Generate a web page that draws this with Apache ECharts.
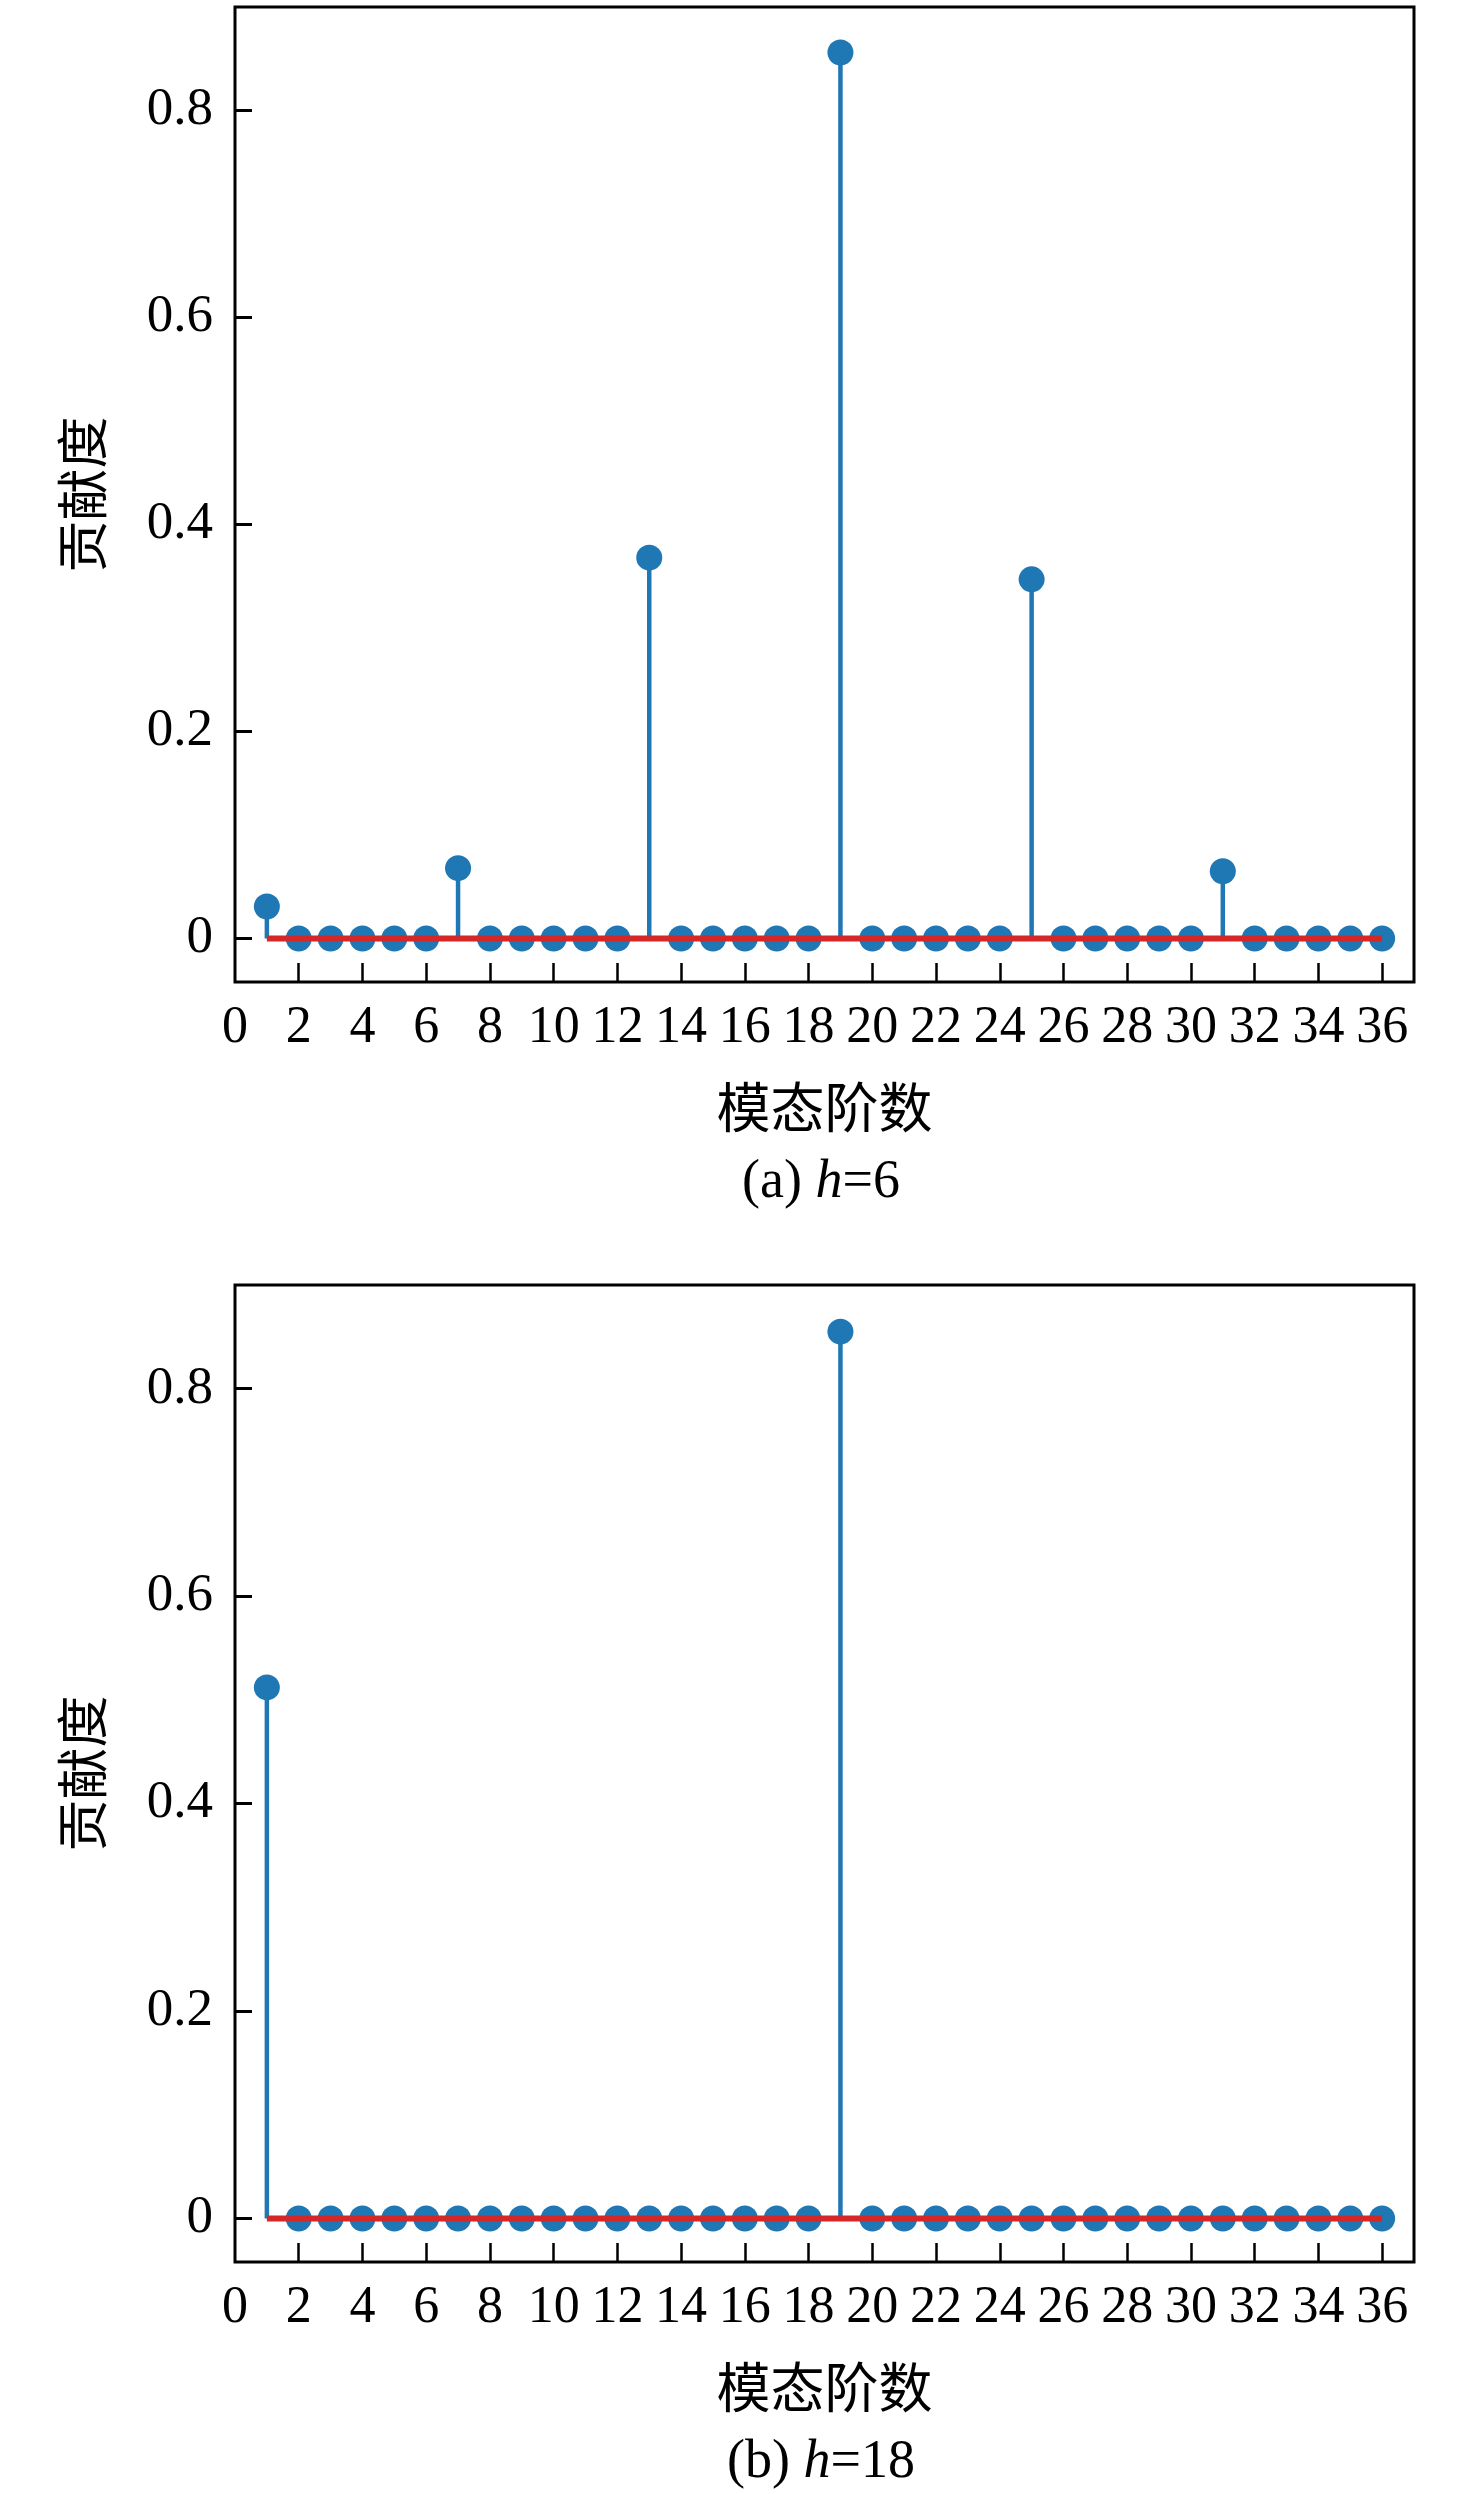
<!DOCTYPE html>
<html>
<head>
<meta charset="utf-8">
<title>贡献度</title>
<script src="https://cdn.jsdelivr.net/npm/echarts@6/dist/echarts.min.js"></script>
<style>
  html, body { margin: 0; padding: 0; background: #fff; }
  #main { width: 1476px; height: 2494px; }
</style>
</head>
<body>
<div id="main"></div>
<script>
// 模态阶数
var modes = [1, 2, 3, 4, 5, 6, 7, 8, 9, 10, 11, 12, 13, 14, 15, 16, 17, 18,
  19, 20, 21, 22, 23, 24, 25, 26, 27, 28, 29, 30, 31, 32, 33, 34, 35, 36];
// (a) h=6 贡献度
var contribA = [0.031, 0, 0, 0, 0, 0, 0.068, 0, 0, 0, 0, 0, 0.368, 0, 0, 0, 0, 0,
  0.856, 0, 0, 0, 0, 0, 0.347, 0, 0, 0, 0, 0, 0.065, 0, 0, 0, 0, 0];
// (b) h=18 贡献度
var contribB = [0.512, 0, 0, 0, 0, 0, 0, 0, 0, 0, 0, 0, 0, 0, 0, 0, 0, 0,
  0.855, 0, 0, 0, 0, 0, 0, 0, 0, 0, 0, 0, 0, 0, 0, 0, 0, 0];
// 刻度
var xLabelValues = [0, 2, 4, 6, 8, 10, 12, 14, 16, 18, 20, 22, 24, 26, 28, 30, 32, 34, 36];
var xTickValues = [2, 4, 6, 8, 10, 12, 14, 16, 18, 20, 22, 24, 26, 28, 30, 32, 34, 36];
var yTickValues = [0, 0.2, 0.4, 0.6, 0.8];
var captions = [['(a) ', 'h', '=6'], ['(b) ', 'h', '=18']];

var BLUE = '#1f77b4';
var RED = '#d62728';
var SERIF = '"Liberation Serif", "Times New Roman", serif';
var CJK = '"Noto Sans CJK SC", sans-serif';

var grids = [
  { left: 235, top: 7, width: 1179, height: 975 },
  { left: 235, top: 1285, width: 1179, height: 977 }
];

function pairs(vals) {
  return modes.map(function (m, i) { return [m, vals[i]]; });
}

var option = {
  animation: false,
  backgroundColor: '#fff',
  grid: grids.map(function (g) {
    return Object.assign({ show: true, borderColor: '#000', borderWidth: 3 }, g);
  }),
  xAxis: grids.map(function (g, i) {
    return {
      gridIndex: i,
      type: 'value',
      min: 0,
      max: 37,
      name: '模态阶数',
      nameLocation: 'middle',
      nameGap: 98,
      nameTextStyle: { fontFamily: CJK, fontSize: 54, color: '#000' },
      axisLine: { show: false, onZero: false },
      splitLine: { show: false },
      axisTick: {
        show: true, inside: true, length: 19,
        customValues: xTickValues,
        lineStyle: { color: '#000', width: 2.5 }
      },
      axisLabel: {
        customValues: xLabelValues,
        margin: 20,
        fontFamily: SERIF, fontSize: 52, color: '#000'
      }
    };
  }),
  yAxis: grids.map(function (g, i) {
    return {
      gridIndex: i,
      type: 'value',
      min: -0.042,
      max: 0.9,
      name: '贡献度',
      nameLocation: 'middle',
      nameGap: 127,
      nameTextStyle: { fontFamily: CJK, fontSize: 52, color: '#000' },
      axisLine: { show: false, onZero: false },
      splitLine: { show: false },
      axisTick: {
        show: true, inside: true, length: 17,
        customValues: yTickValues,
        lineStyle: { color: '#000', width: 3 }
      },
      axisLabel: {
        customValues: yTickValues,
        margin: 22,
        fontFamily: SERIF, fontSize: 53, color: '#000'
      }
    };
  }),
  series: [],
  graphic: []
};

[contribA, contribB].forEach(function (vals, i) {
  // 茎
  option.series.push({
    type: 'bar', xAxisIndex: i, yAxisIndex: i,
    data: pairs(vals), barWidth: 4.5,
    itemStyle: { color: BLUE }, z: 2
  });
  // 圆点
  option.series.push({
    type: 'scatter', xAxisIndex: i, yAxisIndex: i,
    data: pairs(vals), symbol: 'circle', symbolSize: 26,
    itemStyle: { color: BLUE, opacity: 1 }, z: 3
  });
  // 基线
  option.series.push({
    type: 'line', xAxisIndex: i, yAxisIndex: i,
    data: [[modes[0], 0], [modes[modes.length - 1], 0]],
    symbol: 'none', lineStyle: { color: RED, width: 6 }, z: 4
  });
  var c = captions[i];
  option.graphic.push({
    type: 'text',
    x: 821,
    y: grids[i].top + grids[i].height + 201,
    style: {
      text: '{n|' + c[0] + '}{i|' + c[1] + '}{n|' + c[2] + '}',
      align: 'center',
      verticalAlign: 'middle',
      rich: {
        n: { fontFamily: SERIF, fontSize: 54, fill: '#000' },
        i: { fontFamily: SERIF, fontSize: 54, fontStyle: 'italic', fill: '#000' }
      }
    }
  });
});

var chart = echarts.init(document.getElementById('main'));
chart.setOption(option);
</script>
</body>
</html>
